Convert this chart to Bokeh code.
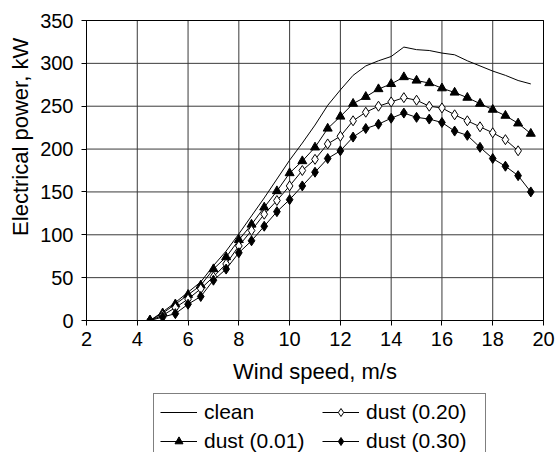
from bokeh.plotting import figure
from bokeh.layouts import column
from bokeh.models import Legend, LegendItem, FixedTicker, Range1d, LinearAxis
from bokeh.embed import file_html
from bokeh.resources import INLINE

# ---- data ----
wind_speed = [4.5, 5.0, 5.5, 6.0, 6.5, 7.0, 7.5, 8.0, 8.5, 9.0, 9.5, 10.0, 10.5,
              11.0, 11.5, 12.0, 12.5, 13.0, 13.5, 14.0, 14.5, 15.0, 15.5, 16.0,
              16.5, 17.0, 17.5, 18.0, 18.5, 19.0, 19.5]
clean = [0, 10, 21, 33, 45, 64, 81, 101, 122, 143, 165, 187, 207, 228, 251, 269,
         286, 297, 303, 308, 319, 316, 315, 312, 310, 303, 297, 291, 286, 280, 276]
dust_001 = [0, 8.5, 19, 30, 41, 60, 74, 94, 112, 132, 151, 172, 186, 202, 224, 238,
            253, 261, 270, 276, 284, 280, 277, 271, 266, 260, 253, 246, 239, 230, 218]
wind_speed_020 = [4.5, 5.0, 5.5, 6.0, 6.5, 7.0, 7.5, 8.0, 8.5, 9.0, 9.5, 10.0, 10.5,
                  11.0, 11.5, 12.0, 12.5, 13.0, 13.5, 14.0, 14.5, 15.0, 15.5, 16.0,
                  16.5, 17.0, 17.5, 18.0, 18.5, 19.0]
dust_020 = [0, 6, 15, 25, 37, 51, 66, 87, 105, 124, 140, 157, 175, 188, 206, 215,
            233, 243, 250, 255, 260, 257, 250, 248, 240, 233, 226, 219, 211, 198]
dust_030 = [0, 4, 8, 19, 28, 47, 60, 79, 93, 110, 127, 141, 157, 173, 189, 198,
            214, 224, 229, 236, 242, 237, 235, 231, 221, 216, 202, 189, 180, 169, 150]
x_ticks = [2, 4, 6, 8, 10, 12, 14, 16, 18, 20]
y_ticks = [0, 50, 100, 150, 200, 250, 300, 350]
series_labels = ["clean", "dust (0.01)", "dust (0.20)", "dust (0.30)"]

FONT = "Liberation Sans"
NBSP = "\u00a0"

# ---------------- main chart ----------------
p = figure(width=556, height=392, output_backend="svg", toolbar_location=None,
           x_range=Range1d(x_ticks[0], x_ticks[-1]),
           y_range=Range1d(y_ticks[0], y_ticks[-1]),
           min_border_left=86, min_border_right=13, min_border_top=20,
           min_border_bottom=72)
p.background_fill_color = "white"
p.border_fill_color = "white"
p.outline_line_color = "black"
p.grid.grid_line_color = None

# grid lines at every tick, drawn through the plot's own scales
y_lo = [y_ticks[0]] * len(x_ticks)
y_hi = [y_ticks[-1]] * len(x_ticks)
x_lo = [x_ticks[0]] * len(y_ticks)
x_hi = [x_ticks[-1]] * len(y_ticks)
p.segment(x0=x_ticks, y0=y_lo, x1=x_ticks, y1=y_hi, line_color="#3a3a3a", line_width=1)
p.segment(x0=x_lo, y0=y_ticks, x1=x_hi, y1=y_ticks, line_color="#3a3a3a", line_width=1)

p.xaxis.ticker = FixedTicker(ticks=x_ticks)
p.yaxis.ticker = FixedTicker(ticks=y_ticks)

for ax in (p.xaxis[0], p.yaxis[0]):
    ax.axis_line_color = "black"
    ax.major_tick_line_color = "black"
    ax.major_tick_in = 0
    ax.major_tick_out = 5
    ax.minor_tick_line_color = None
    ax.major_label_text_font = FONT
    ax.major_label_text_font_size = "20px"
    ax.major_label_text_color = "black"
    ax.axis_label_text_font = FONT
    ax.axis_label_text_font_size = "22px"
    ax.axis_label_text_font_style = "normal"
    ax.axis_label_text_color = "black"

p.xaxis.major_label_standoff = 6
p.yaxis.major_label_standoff = 8
p.xaxis.axis_label = "Wind speed, m/s"
p.xaxis.axis_label_standoff = 10
# leading no-break spaces lift the title a little, as in the reference
p.yaxis.axis_label = NBSP * 11 + "Electrical power, kW"
p.yaxis.axis_label_standoff = 4

# frame border on the top and right sides (plain axes without ticks or labels)
for side in ("above", "right"):
    b = LinearAxis(ticker=FixedTicker(ticks=[]), axis_line_color="black",
                   axis_line_width=1, major_tick_line_color=None,
                   minor_tick_line_color=None, major_label_text_font_size="0px",
                   major_label_standoff=0, major_tick_out=0, major_tick_in=0)
    p.add_layout(b, side)

p.line(wind_speed, clean, line_color="black", line_width=1)

p.line(wind_speed, dust_001, line_color="black", line_width=1)
p.scatter(wind_speed, dust_001, marker="triangle", size=9,
          fill_color="black", line_color="black")

p.line(wind_speed_020, dust_020, line_color="black", line_width=1)
p.scatter(wind_speed_020, dust_020, marker="diamond", size=10,
          fill_color="white", line_color="black", line_width=1)

p.line(wind_speed, dust_030, line_color="black", line_width=1)
p.scatter(wind_speed, dust_030, marker="diamond", size=10,
          fill_color="black", line_color="black")

# ---------------- legend strip below the chart ----------------
# a strip with no axes; its range keeps the series out of view so only the key shows
q = figure(width=556, height=60, output_backend="svg", toolbar_location=None,
           x_axis_type=None, y_axis_type=None,
           x_range=Range1d(100, 101), y_range=Range1d(1000, 1001),
           min_border_left=0, min_border_right=0, min_border_top=0,
           min_border_bottom=0)
q.grid.visible = False
q.outline_line_color = None
q.background_fill_color = "white"
q.border_fill_color = "white"

k_clean = q.line(wind_speed, clean, line_color="black", line_width=1)
k01_l = q.line(wind_speed, dust_001, line_color="black", line_width=1)
k01_m = q.scatter(wind_speed, dust_001, marker="triangle", size=9,
                  fill_color="black", line_color="black")
k20_l = q.line(wind_speed_020, dust_020, line_color="black", line_width=1)
k20_m = q.scatter(wind_speed_020, dust_020, marker="diamond", size=10,
                  fill_color="white", line_color="black")
k30_l = q.line(wind_speed, dust_030, line_color="black", line_width=1)
k30_m = q.scatter(wind_speed, dust_030, marker="diamond", size=10,
                  fill_color="black", line_color="black")

legend = Legend(items=[
    LegendItem(label=series_labels[0], renderers=[k_clean]),
    LegendItem(label=series_labels[1], renderers=[k01_l, k01_m]),
    LegendItem(label=series_labels[2], renderers=[k20_l, k20_m]),
    LegendItem(label=series_labels[3], renderers=[k30_l, k30_m]),
], ncols=2, location=(67, -8))
legend.label_text_font = FONT
legend.label_text_font_size = "21px"
legend.label_text_color = "black"
legend.glyph_width = 37
legend.label_standoff = 7
legend.label_width = 113
legend.padding = 6
legend.spacing = 5
legend.margin = 0
legend.border_line_color = "black"
legend.border_line_width = 1
legend.background_fill_color = "white"
legend.background_fill_alpha = 1
q.add_layout(legend, "center")

layout = column(p, q, spacing=0)
open("out.html", "w").write(file_html(layout, INLINE))
